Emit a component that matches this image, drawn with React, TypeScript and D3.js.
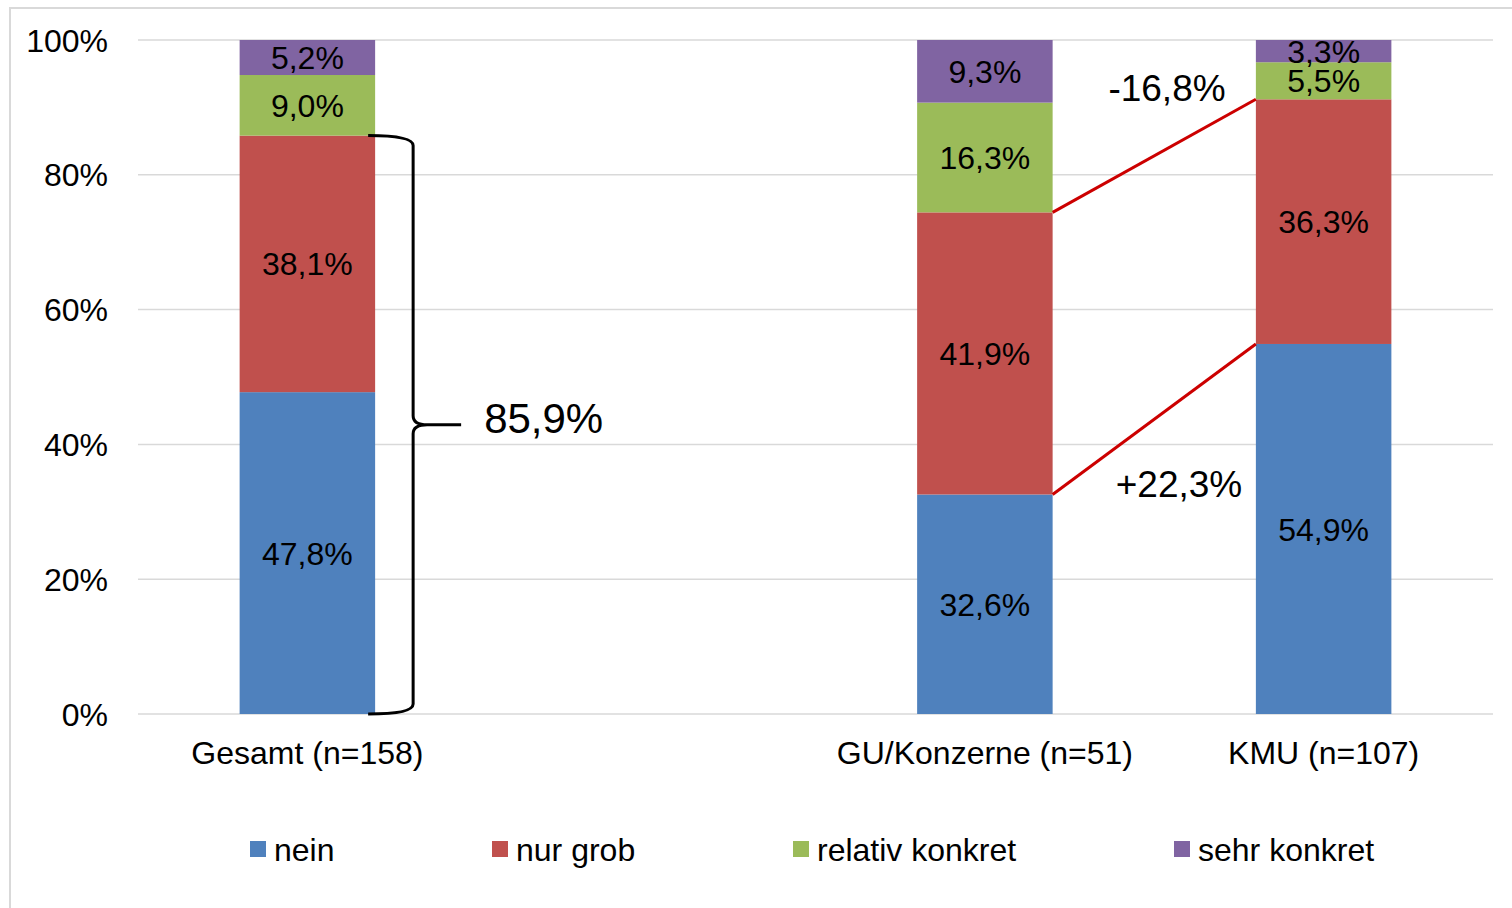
import React from "react";
import * as d3 from "d3";

const categories = ["Gesamt (n=158)", "__spacer__", "GU/Konzerne (n=51)", "KMU (n=107)"];
const barCategories = ["Gesamt (n=158)", "GU/Konzerne (n=51)", "KMU (n=107)"];
const seriesNames = ["nein", "nur grob", "relativ konkret", "sehr konkret"];
const neinValues = [47.8, 32.6, 54.9];
const nurGrobValues = [38.1, 41.9, 36.3];
const relativKonkretValues = [9.0, 16.3, 5.5];
const sehrKonkretValues = [5.2, 9.3, 3.3];
const yTicks = [0, 0.2, 0.4, 0.6, 0.8, 1.0];
const colors = ["#4F81BD", "#C0504D", "#9BBB59", "#8064A2"];

const W = 1512;
const H = 908;
const FONT = "'Liberation Sans', Arial, Helvetica, sans-serif";

const fmt = (v: number) => d3.format(".1f")(v).replace(".", ",").replace("\u2212", "-") + "%";
const fmtSigned = (v: number) => (v > 0 ? "+" : "") + fmt(v);

export default function App() {
  const rows = barCategories.map((c, i) => ({
    cat: c,
    "nein": neinValues[i],
    "nur grob": nurGrobValues[i],
    "relativ konkret": relativKonkretValues[i],
    "sehr konkret": sehrKonkretValues[i],
  }));
  const stacked = d3
    .stack<any>()
    .keys(seriesNames)
    .offset(d3.stackOffsetExpand)(rows);

  const x = d3
    .scaleBand<string>()
    .domain(categories)
    .range([138, 1493])
    .paddingInner(0.6)
    .paddingOuter(0.3);
  const y = d3.scaleLinear().domain([0, 1]).range([714, 40]);
  const bw = x.bandwidth();

  // Brace for Gesamt (nein + nur grob)
  const gIdx = 0;
  const braceTop = y(stacked[1][gIdx][1]);
  const braceBot = y(0);
  const braceMid = (braceTop + braceBot) / 2;
  const bx0 = (x(barCategories[0]) as number) + bw - 7;
  const bx1 = bx0 + 45;
  const bxTip = bx0 + 93;
  const bracePath = [
    `M${bx0},${braceTop}`,
    `Q${bx1},${braceTop} ${bx1},${braceTop + 10}`,
    `L${bx1},${braceMid - 9}`,
    `Q${bx1},${braceMid} ${bx1 + 14},${braceMid}`,
    `L${bxTip},${braceMid}`,
    `M${bx1 + 14},${braceMid}`,
    `Q${bx1},${braceMid} ${bx1},${braceMid + 9}`,
    `L${bx1},${braceBot - 10}`,
    `Q${bx1},${braceBot} ${bx0},${braceBot}`,
  ].join(" ");
  const braceTotal = neinValues[0] + nurGrobValues[0];

  // Connector lines between GU and KMU
  const gu = 1;
  const kmu = 2;
  const guRight = (x(barCategories[gu]) as number) + bw;
  const kmuLeft = x(barCategories[kmu]) as number;
  const topDiff =
    relativKonkretValues[kmu] + sehrKonkretValues[kmu] - (relativKonkretValues[gu] + sehrKonkretValues[gu]);
  const botDiff = neinValues[kmu] - neinValues[gu];

  const legendX = [250, 492, 793, 1174];

  return (
    <svg
      width={W}
      height={H}
      style={{ position: "absolute", left: 0, top: 0, display: "block", background: "#fff" }}
      fontFamily={FONT}
    >
      <rect x={10} y={8} width={1520} height={920} fill="#fff" stroke="#D9D9D9" strokeWidth={2} />
      {yTicks.map((t) => (
        <g key={t}>
          <line x1={138} x2={1493} y1={y(t)} y2={y(t)} stroke="#D9D9D9" strokeWidth={1.5} />
          <text x={108} y={y(t)} dy="0.36em" textAnchor="end" fontSize={32} fill="#000">
            {Math.round(t * 100) + "%"}
          </text>
        </g>
      ))}
      {stacked.map((s, si) => (
        <g key={s.key} fill={colors[si]}>
          {s.map((d, ci) => {
            const x0 = x(barCategories[ci]) as number;
            const yTop = y(d[1]);
            const yBot = y(d[0]);
            return (
              <g key={ci}>
                <rect x={x0} y={yTop} width={bw} height={yBot - yTop} />
                <text
                  x={x0 + bw / 2}
                  y={(yTop + yBot) / 2}
                  dy="0.36em"
                  textAnchor="middle"
                  fontSize={32}
                  fill="#000"
                >
                  {fmt((d.data as any)[s.key])}
                </text>
              </g>
            );
          })}
        </g>
      ))}
      {barCategories.map((c) => (
        <text
          key={c}
          x={(x(c) as number) + bw / 2}
          y={752}
          dy="0.36em"
          textAnchor="middle"
          fontSize={32}
          fill="#000"
        >
          {c}
        </text>
      ))}
      <path d={bracePath} fill="none" stroke="#000" strokeWidth={3} />
      <text x={bxTip + 23} y={braceMid - 7} dy="0.36em" fontSize={42} fill="#000">
        {fmt(braceTotal)}
      </text>
      <line
        x1={guRight}
        y1={y(stacked[1][gu][1])}
        x2={kmuLeft}
        y2={y(stacked[1][kmu][1])}
        stroke="#CC0000"
        strokeWidth={3}
      />
      <line
        x1={guRight}
        y1={y(stacked[0][gu][1])}
        x2={kmuLeft}
        y2={y(stacked[0][kmu][1])}
        stroke="#CC0000"
        strokeWidth={3}
      />
      <text x={1167} y={88} dy="0.36em" textAnchor="middle" fontSize={37} fill="#000">
        {fmtSigned(topDiff)}
      </text>
      <text x={1179} y={484} dy="0.36em" textAnchor="middle" fontSize={37} fill="#000">
        {fmtSigned(botDiff)}
      </text>
      {seriesNames.map((n, i) => (
        <g key={n}>
          <rect x={legendX[i]} y={841} width={16} height={16} fill={colors[i]} />
          <text x={legendX[i] + 24} y={849} dy="0.36em" fontSize={32} fill="#000">
            {n}
          </text>
        </g>
      ))}
    </svg>
  );
}
